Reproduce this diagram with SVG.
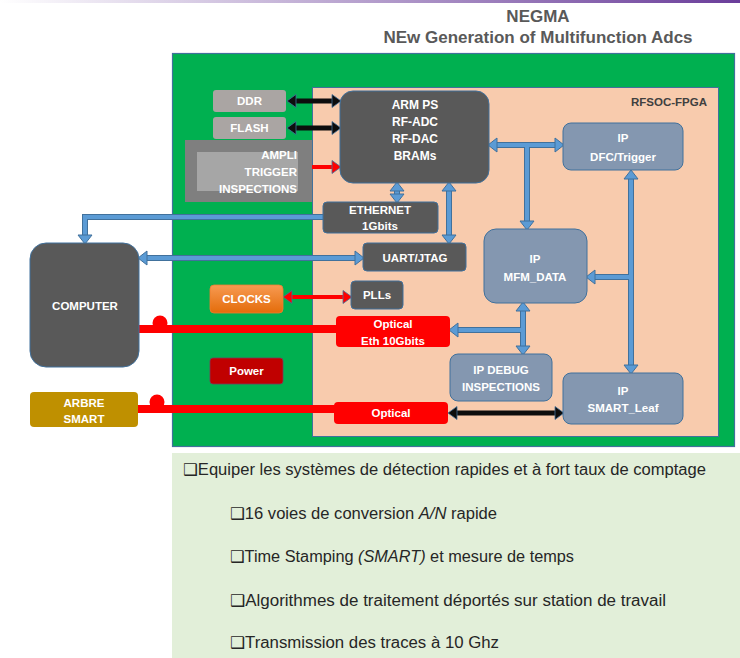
<svg xmlns="http://www.w3.org/2000/svg" width="740" height="658" viewBox="0 0 740 658">
  <defs>
    <linearGradient id="topBar" x1="0" y1="0" x2="1" y2="0">
      <stop offset="0" stop-color="#ffffff"/>
      <stop offset="1" stop-color="#6a3d9a"/>
    </linearGradient>
    <linearGradient id="orange" x1="0" y1="0" x2="0" y2="1">
      <stop offset="0" stop-color="#f79a52"/>
      <stop offset="1" stop-color="#e46c0a"/>
    </linearGradient>
    <marker id="blueHead" markerUnits="userSpaceOnUse" markerWidth="12" markerHeight="16" viewBox="0 -8 10 16" refX="0" refY="0" orient="auto-start-reverse" overflow="visible">
      <path d="M0,-7 L9,0 L0,7 Z" fill="#5b9bd5" stroke="#41719c" stroke-width="1"/>
    </marker>
    <marker id="redHead" markerUnits="userSpaceOnUse" markerWidth="12" markerHeight="16" viewBox="0 -8 10 16" refX="0" refY="0" orient="auto-start-reverse" overflow="visible">
      <path d="M0,-6.5 L9,0 L0,6.5 Z" fill="#ff0000" stroke="#41719c" stroke-width="0.8"/>
    </marker>
    <marker id="blackHead" markerUnits="userSpaceOnUse" markerWidth="12" markerHeight="16" viewBox="0 -8 10 16" refX="0" refY="0" orient="auto-start-reverse" overflow="visible">
      <path d="M0,-6.5 L9,0 L0,6.5 Z" fill="#0d0d0d" stroke="#41719c" stroke-width="0.8"/>
    </marker>
  </defs>
  <style>
    .lbl { font-family: "Liberation Sans", Arial, sans-serif; font-weight: bold; font-size: 11.5px; fill: #ffffff; text-anchor: middle; }
    .title { font-family: "Liberation Sans", Arial, sans-serif; font-weight: bold; font-size: 17px; fill: #595959; text-anchor: middle; }
    .body { font-family: "Liberation Sans", "DejaVu Sans", sans-serif; font-size: 16px; fill: #262626; }
    .dark { fill: #595959; stroke: #41719c; stroke-width: 1; }
    .ip { fill: #8497b0; stroke: #41719c; stroke-width: 1; }
    .grey { fill: #aaa5a3; }
    .bo { fill: none; stroke: #41719c; stroke-width: 6; stroke-linejoin: miter; }
    .bi { fill: none; stroke: #5b9bd5; stroke-width: 4; stroke-linejoin: miter; }
    .bi2 { marker-start: url(#blueHead); marker-end: url(#blueHead); }
    .bi1 { marker-end: url(#blueHead); }
    .red { fill: none; stroke: #ff0000; stroke-width: 4; }
    .redThick { fill: none; stroke: #ff0000; stroke-width: 8; }
    .blk { fill: none; stroke: #0d0d0d; stroke-width: 5; marker-start: url(#blackHead); marker-end: url(#blackHead); }
  </style>

  <!-- header -->
  <rect x="0" y="0" width="740" height="3" fill="url(#topBar)"/>
  <text class="title" x="538" y="22">NEGMA</text>
  <text class="title" x="538" y="43">NEw Generation of Multifunction Adcs</text>

  <!-- board and FPGA areas -->
  <rect id="board" x="172.5" y="53.5" width="562" height="393" fill="#00b050" stroke="#41719c" stroke-width="1.2"/>
  <g id="fpga">
    <rect x="312.5" y="87.5" width="406" height="349" fill="#f8cbad" stroke="#41719c" stroke-width="1"/>
    <text x="707" y="106" font-family="Liberation Sans, Arial, sans-serif" font-weight="bold" font-size="11.5" fill="#404040" text-anchor="end">RFSOC-FPGA</text>
  </g>

  <!-- connectors -->
  <g id="connectors">
    <!-- blue links: outline then body -->
    <path class="bo" d="M397,191 V194"/>
    <path class="bo" d="M449,191 V235"/>
    <path class="bo" d="M323,217 H85 V235"/>
    <path class="bo" d="M147,258 H355"/>
    <path class="bo" d="M497,145 H555"/>
    <path class="bo" d="M527,145 V221"/>
    <path class="bo" d="M631,179 V365"/>
    <path class="bo" d="M631,277 H595"/>
    <path class="bo" d="M523,311 V346"/>
    <path class="bo" d="M523,330 H458"/>

    <path class="bi bi2" d="M397,191 V194"/>
    <path class="bi bi2" d="M449,191 V235"/>
    <path class="bi bi1" d="M323,217 H85 V235"/>
    <path class="bi bi2" d="M147,258 H355"/>
    <path class="bi bi2" d="M497,145 H555"/>
    <path class="bi bi1" d="M527,145 V221"/>
    <path class="bi bi2" d="M631,179 V365"/>
    <path class="bi bi1" d="M631,277 H595"/>
    <path class="bi bi2" d="M523,311 V346"/>
    <path class="bi bi1" d="M523,330 H458"/>

    <!-- red links -->
    <path class="red" d="M312,167 H332" marker-end="url(#redHead)"/>
    <path class="red" d="M292,297 H343" marker-start="url(#redHead)" marker-end="url(#redHead)"/>
    <path class="redThick" d="M139,329 H337"/>
    <circle cx="160" cy="323" r="7.5" fill="#ff0000"/>
    <path class="redThick" d="M138,409 H335"/>
    <circle cx="157" cy="402" r="7.5" fill="#ff0000"/>

    <!-- black links -->
    <path class="blk" d="M296,101 H332"/>
    <path class="blk" d="M296,128 H332"/>
    <path class="blk" d="M457,413 H555"/>
  </g>

  <!-- nodes -->
  <g id="ddr">
    <rect class="grey" x="213" y="90" width="73" height="22" rx="3"/>
    <text class="lbl" x="249.5" y="105">DDR</text>
  </g>
  <g id="flash">
    <rect class="grey" x="213" y="117" width="73" height="22" rx="3"/>
    <text class="lbl" x="249.5" y="132">FLASH</text>
  </g>
  <g id="ampli">
    <rect x="185" y="140" width="127" height="62" fill="#7f7f7f"/>
    <rect x="197" y="152" width="101" height="39" fill="#a6a6a6"/>
    <text class="lbl" x="297" y="159" style="text-anchor:end">AMPLI</text>
    <text class="lbl" x="297" y="176" style="text-anchor:end">TRIGGER</text>
    <text class="lbl" x="297" y="193" style="text-anchor:end">INSPECTIONS</text>
  </g>
  <g id="arm">
    <rect class="dark" x="340" y="91" width="149" height="92" rx="13"/>
    <text class="lbl" x="415" y="109" style="font-size:12px">ARM PS</text>
    <text class="lbl" x="415" y="126" style="font-size:12px">RF-ADC</text>
    <text class="lbl" x="415" y="143" style="font-size:12px">RF-DAC</text>
    <text class="lbl" x="415" y="160" style="font-size:12px">BRAMs</text>
  </g>
  <g id="ethernet">
    <rect class="dark" x="323" y="202" width="115" height="31" rx="4"/>
    <text class="lbl" x="380" y="214">ETHERNET</text>
    <text class="lbl" x="380" y="230">1Gbits</text>
  </g>
  <g id="uart">
    <rect class="dark" x="363" y="243" width="103" height="28" rx="4"/>
    <text class="lbl" x="415" y="262">UART/JTAG</text>
  </g>
  <g id="plls">
    <rect class="dark" x="351" y="281" width="52" height="28" rx="4"/>
    <text class="lbl" x="377" y="299">PLLs</text>
  </g>
  <g id="computer">
    <rect class="dark" x="30" y="243" width="109" height="124" rx="16"/>
    <text class="lbl" x="85" y="310">COMPUTER</text>
  </g>
  <g id="clocks">
    <rect x="210" y="285" width="73" height="28" rx="4" fill="url(#orange)" stroke="#ed7d31" stroke-width="0.8"/>
    <text class="lbl" x="246.5" y="303">CLOCKS</text>
  </g>
  <g id="power">
    <rect x="210" y="358" width="73" height="26" rx="3" fill="#c00000" stroke="#7a3a5a" stroke-width="0.8"/>
    <text class="lbl" x="246.5" y="375">Power</text>
  </g>
  <g id="arbre">
    <rect x="30" y="392" width="108" height="35" rx="4" fill="#bf9000"/>
    <text class="lbl" x="84" y="407">ARBRE</text>
    <text class="lbl" x="84" y="423">SMART</text>
  </g>
  <g id="optical-eth">
    <rect x="336" y="316" width="114" height="31" rx="4" fill="#ff0000"/>
    <text class="lbl" x="393" y="328">Optical</text>
    <text class="lbl" x="393" y="345">Eth 10Gbits</text>
  </g>
  <g id="optical">
    <rect x="334" y="402" width="114" height="22" rx="4" fill="#ff0000"/>
    <text class="lbl" x="391" y="417">Optical</text>
  </g>
  <g id="ip-dfc">
    <rect class="ip" x="563" y="123" width="120" height="47" rx="8"/>
    <text class="lbl" x="623" y="142">IP</text>
    <text class="lbl" x="623" y="161">DFC/Trigger</text>
  </g>
  <g id="ip-mfm">
    <rect class="ip" x="484" y="229" width="103" height="74" rx="12"/>
    <text class="lbl" x="535" y="263">IP</text>
    <text class="lbl" x="535" y="281">MFM_DATA</text>
  </g>
  <g id="ip-debug">
    <rect class="ip" x="450" y="354" width="102" height="47" rx="8"/>
    <text class="lbl" x="501" y="374">IP DEBUG</text>
    <text class="lbl" x="501" y="391">INSPECTIONS</text>
  </g>
  <g id="ip-smart">
    <rect class="ip" x="563" y="373" width="120" height="51" rx="8"/>
    <text class="lbl" x="623" y="395">IP</text>
    <text class="lbl" x="623" y="412">SMART_Leaf</text>
  </g>

  <!-- goals panel -->
  <g id="goals">
    <rect x="172" y="453" width="568" height="205" fill="#e2efd9"/>
    <text class="body" x="183" y="475" textLength="523" lengthAdjust="spacingAndGlyphs">❑Equiper les systèmes de détection rapides et à fort taux de comptage</text>
    <text class="body" x="230" y="519" textLength="267" lengthAdjust="spacingAndGlyphs">❑16 voies de conversion <tspan font-style="italic">A/N</tspan> rapide</text>
    <text class="body" x="230" y="562" textLength="344" lengthAdjust="spacingAndGlyphs">❑Time Stamping <tspan font-style="italic">(SMART)</tspan> et mesure de temps</text>
    <text class="body" x="230" y="606" textLength="436" lengthAdjust="spacingAndGlyphs">❑Algorithmes de traitement déportés sur station de travail</text>
    <text class="body" x="230" y="648" textLength="269" lengthAdjust="spacingAndGlyphs">❑Transmission des traces à 10 Ghz</text>
  </g>
</svg>
